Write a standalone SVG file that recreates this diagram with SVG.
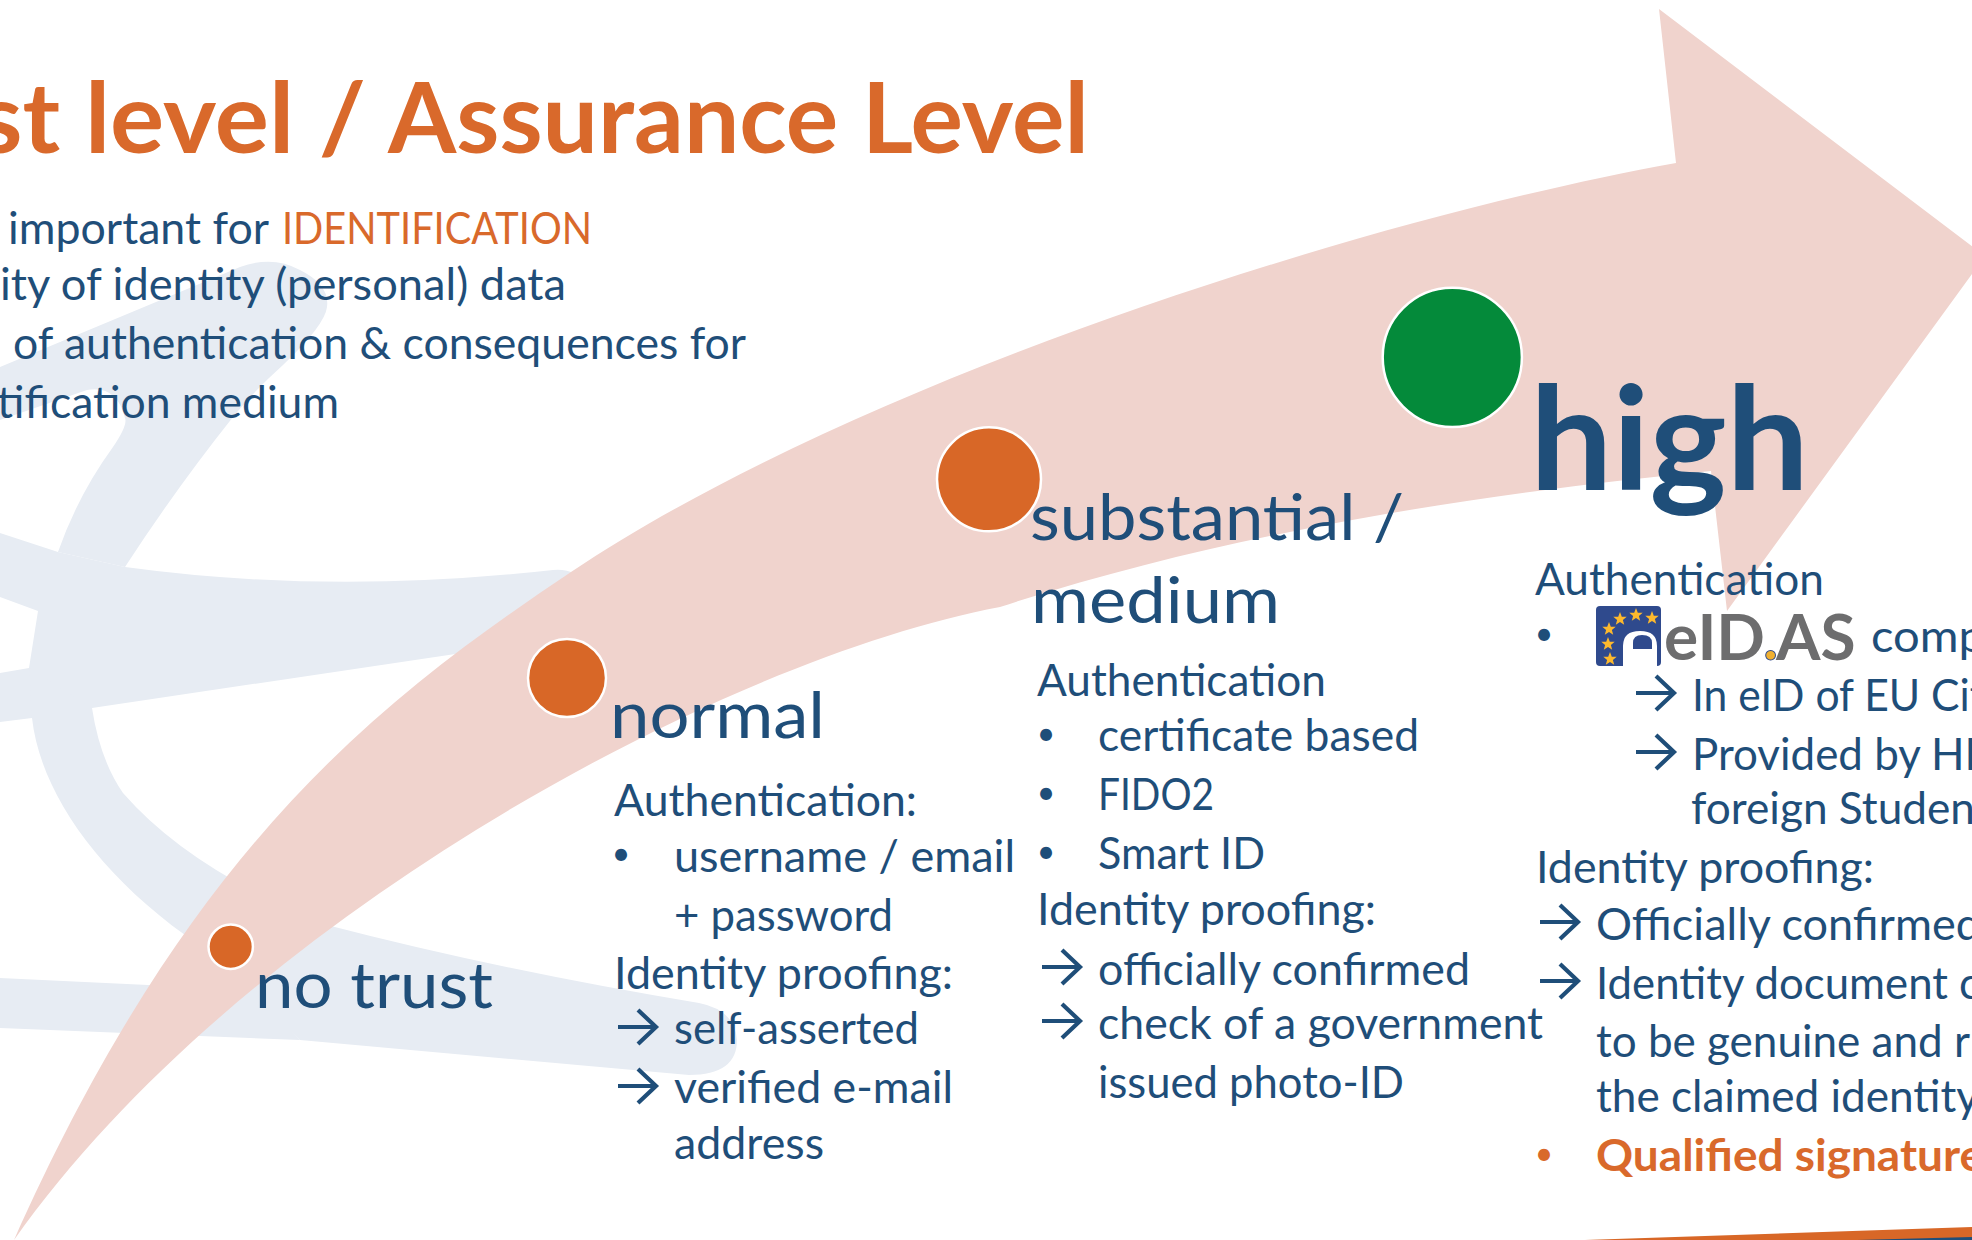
<svg xmlns="http://www.w3.org/2000/svg" width="1972" height="1240" viewBox="0 0 1972 1240">
<style>
text{font-family:Lato,"Open Sans",sans-serif;fill:#1F4E79;white-space:pre}
.b{font-size:44.5px}
.l{font-size:64px}
.o{fill:#D9692B}
.bd{font-weight:700}
.bu{font-size:32px;text-anchor:middle}
.band{fill:#E7ECF3}
.dot{fill:#D86727;stroke:#fff;stroke-width:2.5}
.ar{fill:none;stroke:#1F4E79;stroke-width:4.2;stroke-linejoin:miter}
.star{fill:#FDB92D}
</style>
<defs>
<path id="arrow" d="M0 0H38M20 -17L38 0L20 17"/>
<polygon id="star" points="0,-7 1.8,-2.3 6.7,-2.2 2.9,0.9 4.2,5.7 0,3 -4.2,5.7 -2.9,0.9 -6.7,-2.2 -1.8,-2.3"/>
</defs>
<rect width="1972" height="1240" fill="#fff"/>
<g id="background-swoosh">
<path class="band" d="M0 367L240 267Q273 255 300 270Q330 285 327 307Q325 325 283 365Q255 390 233 417Q175 490 125 567L58 552Q78 495 113 447Q128 425 125 418Q117 385 87 390L0 420Z"/>
<path class="band" d="M0 533L58 552L125 567Q330 595 553 570Q575 568 590 585L462 653L92 708L32 718L0 722V673L29 668L38 611L0 597Z"/>
<path class="band" d="M29 668L32 718C40 790 95 870 185 935L300 1040L689 1075Q737 1075 737 1040Q735 1010 699 1003Q500 970 327 925Q190 870 123 793Q100 760 92 708Z"/>
<path class="band" d="M0 978L148 985L250 990L300 1040L0 1028Z"/>
</g>
<g id="trust-arrow">
<path fill="#F0D3CD" d="M14 1240C190 845 380 700 571 572C850 385 1350 222 1676 163L1659 9L1985 256L1727 611L1711 471C1520 490 1250 525 1000 607C720 660 240 920 14 1240Z"/>
</g>
<g id="corner-accent">
<polygon fill="#D86727" points="1585,1240 1972,1227 1972,1240"/>
<polygon fill="#1F4E79" points="1857,1240 1972,1237 1972,1240"/>
</g>
<g id="title">
<text class="bd o" x="-22" y="153" font-size="97" textLength="388" lengthAdjust="spacingAndGlyphs">st level /</text>
<text class="bd o" x="388" y="153" font-size="97" textLength="701" lengthAdjust="spacingAndGlyphs">Assurance Level</text>
<text class="b" x="8" y="244" textLength="261" lengthAdjust="spacingAndGlyphs">important for</text>
<text class="b o" x="282" y="244" textLength="310" lengthAdjust="spacingAndGlyphs">IDENTIFICATION</text>
<text class="b" x="0" y="300" textLength="566" lengthAdjust="spacingAndGlyphs">ity of identity (personal) data</text>
<text class="b" x="13" y="359" textLength="733" lengthAdjust="spacingAndGlyphs">of authentication &amp; consequences for</text>
<text class="b" x="-3" y="418" textLength="342" lengthAdjust="spacingAndGlyphs">tification medium</text>
</g>
<g id="node-no-trust">
<circle class="dot" cx="230.7" cy="946.7" r="22.2"/>
<text class="l" x="255" y="1008" textLength="238" lengthAdjust="spacingAndGlyphs">no trust</text>
</g>
<g id="node-normal">
<circle class="dot" cx="567" cy="678" r="39"/>
<text class="l" x="610" y="738" textLength="215" lengthAdjust="spacingAndGlyphs">normal</text>
<text class="b" x="614" y="816" textLength="303" lengthAdjust="spacingAndGlyphs">Authentication:</text>
<text class="bu" x="621" y="865">•</text>
<text class="b" x="674" y="872" textLength="341" lengthAdjust="spacingAndGlyphs">username / email</text>
<text class="b" x="674" y="931" textLength="219" lengthAdjust="spacingAndGlyphs">+ password</text>
<text class="b" x="614" y="989" textLength="339" lengthAdjust="spacingAndGlyphs">Identity proofing:</text>
<use href="#arrow" class="ar" x="618" y="1027"/>
<text class="b" x="674" y="1044" textLength="245" lengthAdjust="spacingAndGlyphs">self-asserted</text>
<use href="#arrow" class="ar" x="618" y="1086"/>
<text class="b" x="674" y="1103" textLength="279" lengthAdjust="spacingAndGlyphs">verified e-mail</text>
<text class="b" x="674" y="1159" textLength="150" lengthAdjust="spacingAndGlyphs">address</text>
</g>
<g id="node-substantial">
<circle class="dot" cx="989" cy="479.3" r="52"/>
<text class="l" x="1030" y="540" textLength="374" lengthAdjust="spacingAndGlyphs">substantial /</text>
<text class="l" x="1031" y="623" textLength="249" lengthAdjust="spacingAndGlyphs">medium</text>
<text class="b" x="1037" y="696" textLength="289" lengthAdjust="spacingAndGlyphs">Authentication</text>
<text class="bu" x="1046" y="745">•</text>
<text class="b" x="1098" y="751" textLength="321" lengthAdjust="spacingAndGlyphs">certificate based</text>
<text class="bu" x="1046" y="804">•</text>
<text class="b" x="1098" y="810" textLength="116" lengthAdjust="spacingAndGlyphs">FIDO2</text>
<text class="bu" x="1046" y="863">•</text>
<text class="b" x="1098" y="869" textLength="167" lengthAdjust="spacingAndGlyphs">Smart ID</text>
<text class="b" x="1037" y="925" textLength="339" lengthAdjust="spacingAndGlyphs">Identity proofing:</text>
<use href="#arrow" class="ar" x="1042" y="967"/>
<text class="b" x="1098" y="985" textLength="372" lengthAdjust="spacingAndGlyphs">officially confirmed</text>
<use href="#arrow" class="ar" x="1042" y="1021"/>
<text class="b" x="1098" y="1039" textLength="445" lengthAdjust="spacingAndGlyphs">check of a government</text>
<text class="b" x="1098" y="1098" textLength="306" lengthAdjust="spacingAndGlyphs">issued photo-ID</text>
</g>
<g id="node-high">
<circle cx="1452.3" cy="357.3" r="69.6" fill="#048A3A" stroke="#fff" stroke-width="2.5"/>
<text class="bd" x="1530" y="490" font-size="144" textLength="279" lengthAdjust="spacingAndGlyphs">high</text>
<text class="b" x="1535" y="595" textLength="289" lengthAdjust="spacingAndGlyphs">Authentication</text>
<text class="bu" x="1544" y="645">•</text>
<g id="eidas-logo">
<rect x="1596" y="606" width="65" height="60" rx="4" fill="#2F4A8D"/>
<path fill="#fff" d="M1623 666V646Q1623 631 1640 631Q1657 631 1657 646V666Z"/>
<path fill="#2F4A8D" d="M1633 649V643Q1633 635 1642 635Q1652 635 1652 643V649Z"/>
<use href="#star" class="star" x="1620" y="619"/>
<use href="#star" class="star" x="1636" y="615"/>
<use href="#star" class="star" x="1652" y="618"/>
<use href="#star" class="star" x="1609" y="629"/>
<use href="#star" class="star" x="1608" y="644"/>
<use href="#star" class="star" x="1610" y="659"/>
<text class="bd" y="660" font-size="64" style="fill:#6D6D6E"><tspan x="1664">eID</tspan><tspan x="1763" style="fill:#F0B030;stroke:#2F4A8D;stroke-width:1">.</tspan><tspan x="1776">AS</tspan></text>
</g>
<text class="b" x="1871" y="652" textLength="114" lengthAdjust="spacingAndGlyphs">comp</text>
<use href="#arrow" class="ar" x="1636" y="693"/>
<text class="b" x="1692" y="711" textLength="293" lengthAdjust="spacingAndGlyphs">In eID of EU Cit</text>
<use href="#arrow" class="ar" x="1636" y="752"/>
<text class="b" x="1692" y="770" textLength="298" lengthAdjust="spacingAndGlyphs">Provided by HE</text>
<text class="b" x="1691" y="824" textLength="284" lengthAdjust="spacingAndGlyphs">foreign Studen</text>
<text class="b" x="1536" y="883" textLength="338" lengthAdjust="spacingAndGlyphs">Identity proofing:</text>
<use href="#arrow" class="ar" x="1540" y="922"/>
<text class="b" x="1596" y="940" textLength="385" lengthAdjust="spacingAndGlyphs">Officially confirmed</text>
<use href="#arrow" class="ar" x="1540" y="981"/>
<text class="b" x="1596" y="999" textLength="384" lengthAdjust="spacingAndGlyphs">Identity document c</text>
<text class="b" x="1596" y="1057" textLength="374" lengthAdjust="spacingAndGlyphs">to be genuine and r</text>
<text class="b" x="1596" y="1112" textLength="383" lengthAdjust="spacingAndGlyphs">the claimed identity</text>
<text class="bu o" x="1544" y="1165">•</text>
<text class="b o bd" x="1596" y="1171" textLength="388" lengthAdjust="spacingAndGlyphs">Qualified signature</text>
</g>
</svg>
